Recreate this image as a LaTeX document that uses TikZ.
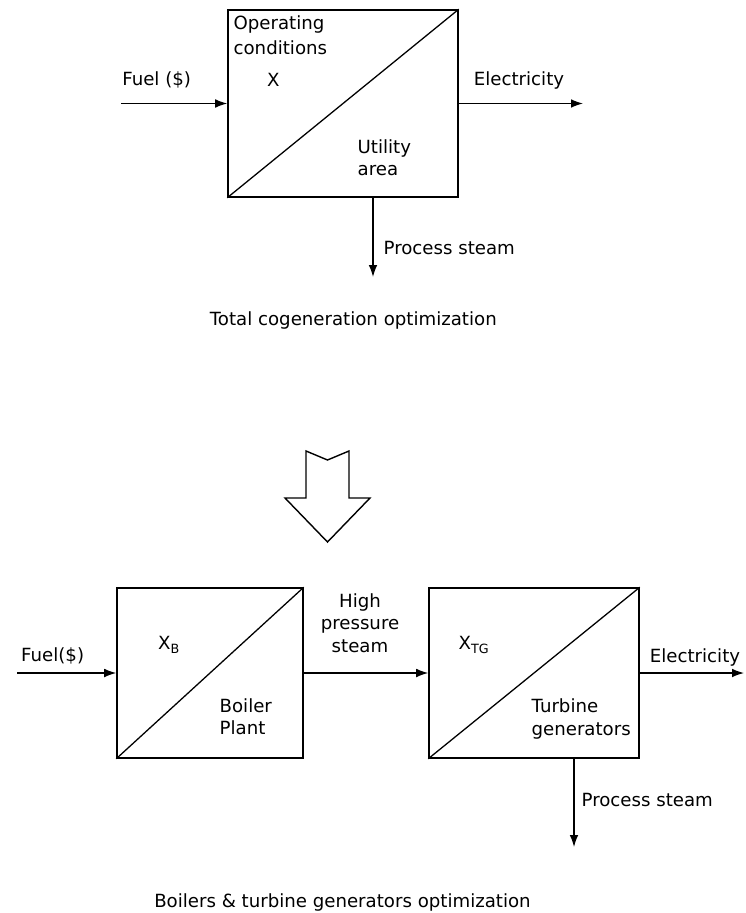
\documentclass[tikz,border=0pt]{standalone}
\usepackage{fontspec}
\setmainfont{DejaVu Sans}
\usepackage{tikz}
\usetikzlibrary{positioning,arrows.meta}

\begin{document}
\begin{tikzpicture}[>={Latex[length=3.6mm,width=2.6mm]}, line width=1.1pt,
  every node/.style={font=\fontsize{15.5}{19}\selectfont, inner sep=0pt},
  block/.style={draw, line width=1.3pt, minimum height=5.1cm}]
\useasboundingbox (0,0) rectangle (22.38,-27.39);
% total cogeneration
\node[block, minimum width=6.9cm, minimum height=5.61cm] (util) at (10.29,-3.105) {};
\draw (util.south west) -- (util.north east);
\coordinate (fuelin) at (3.63,-3.105);
\coordinate (elecout) at (17.49,-3.105);
\coordinate (steamout) at (11.19,-8.31);
\draw[->] (fuelin) -- (util.west);
\draw[->] (util.east) -- (elecout);
\draw[->] (steamout |- util.south) -- (steamout);
\node (fuel) at (4.70,-2.40) {Fuel (\$)};
\node[anchor=west, align=left, font=\fontsize{15.5}{21}\selectfont] (opcond) at (6.99,-1.065) {Operating\\conditions};
\node (x) at (8.2,-2.40) {X};
\node[anchor=west, align=left] (utilarea) at (10.71,-4.74) {Utility\\area};
\node (elec) at (15.57,-2.40) {Electricity};
\node[anchor=west] (steam) at (11.49,-7.44) {Process steam};
\node (cap1) at (10.6,-9.6) {Total cogeneration optimization};
% hollow arrow
\draw[line width=1.2pt] (9.18,-13.53) -- (9.825,-13.8) -- (10.47,-13.53) -- (10.47,-14.94)
  -- (11.10,-14.94) -- (9.825,-16.26) -- (8.55,-14.94) -- (9.18,-14.94) -- cycle;
% boilers and turbine generators
\node[block, minimum width=5.58cm] (boiler) at (6.30,-20.19) {};
\node[block, minimum width=6.30cm] (turbine) at (16.02,-20.19) {};
\draw (boiler.south west) -- (boiler.north east);
\draw (turbine.south west) -- (turbine.north east);
\coordinate (fuelin2) at (0.51,-20.19);
\coordinate (elecout2) at (22.32,-20.19);
\coordinate (steamout2) at (17.22,-25.41);
\draw[->] (fuelin2) -- (boiler.west);
\draw[->] (boiler.east) -- (turbine.west);
\draw[->] (turbine.east) -- (elecout2);
\draw[->] (steamout2 |- turbine.south) -- (steamout2);
\node (fuel2) at (1.58,-19.68) {Fuel(\$)};
\node (xb) at (5.07,-19.35) {X\textsubscript{B}};
\node[anchor=west, align=left] (boilerl) at (6.57,-21.51) {Boiler\\Plant};
\node[align=center] (hps) at (10.8,-18.69) {High\\pressure\\steam};
\node (xtg) at (14.22,-19.35) {X\textsubscript{TG}};
\node[anchor=west, align=left] (turbl) at (15.93,-21.57) {Turbine\\generators};
\node (elec2) at (20.85,-19.71) {Electricity};
\node[anchor=west] (steam2) at (17.43,-24.0) {Process steam};
\node (cap2) at (10.275,-27.06) {Boilers \& turbine generators optimization};
\end{tikzpicture}
\end{document}
